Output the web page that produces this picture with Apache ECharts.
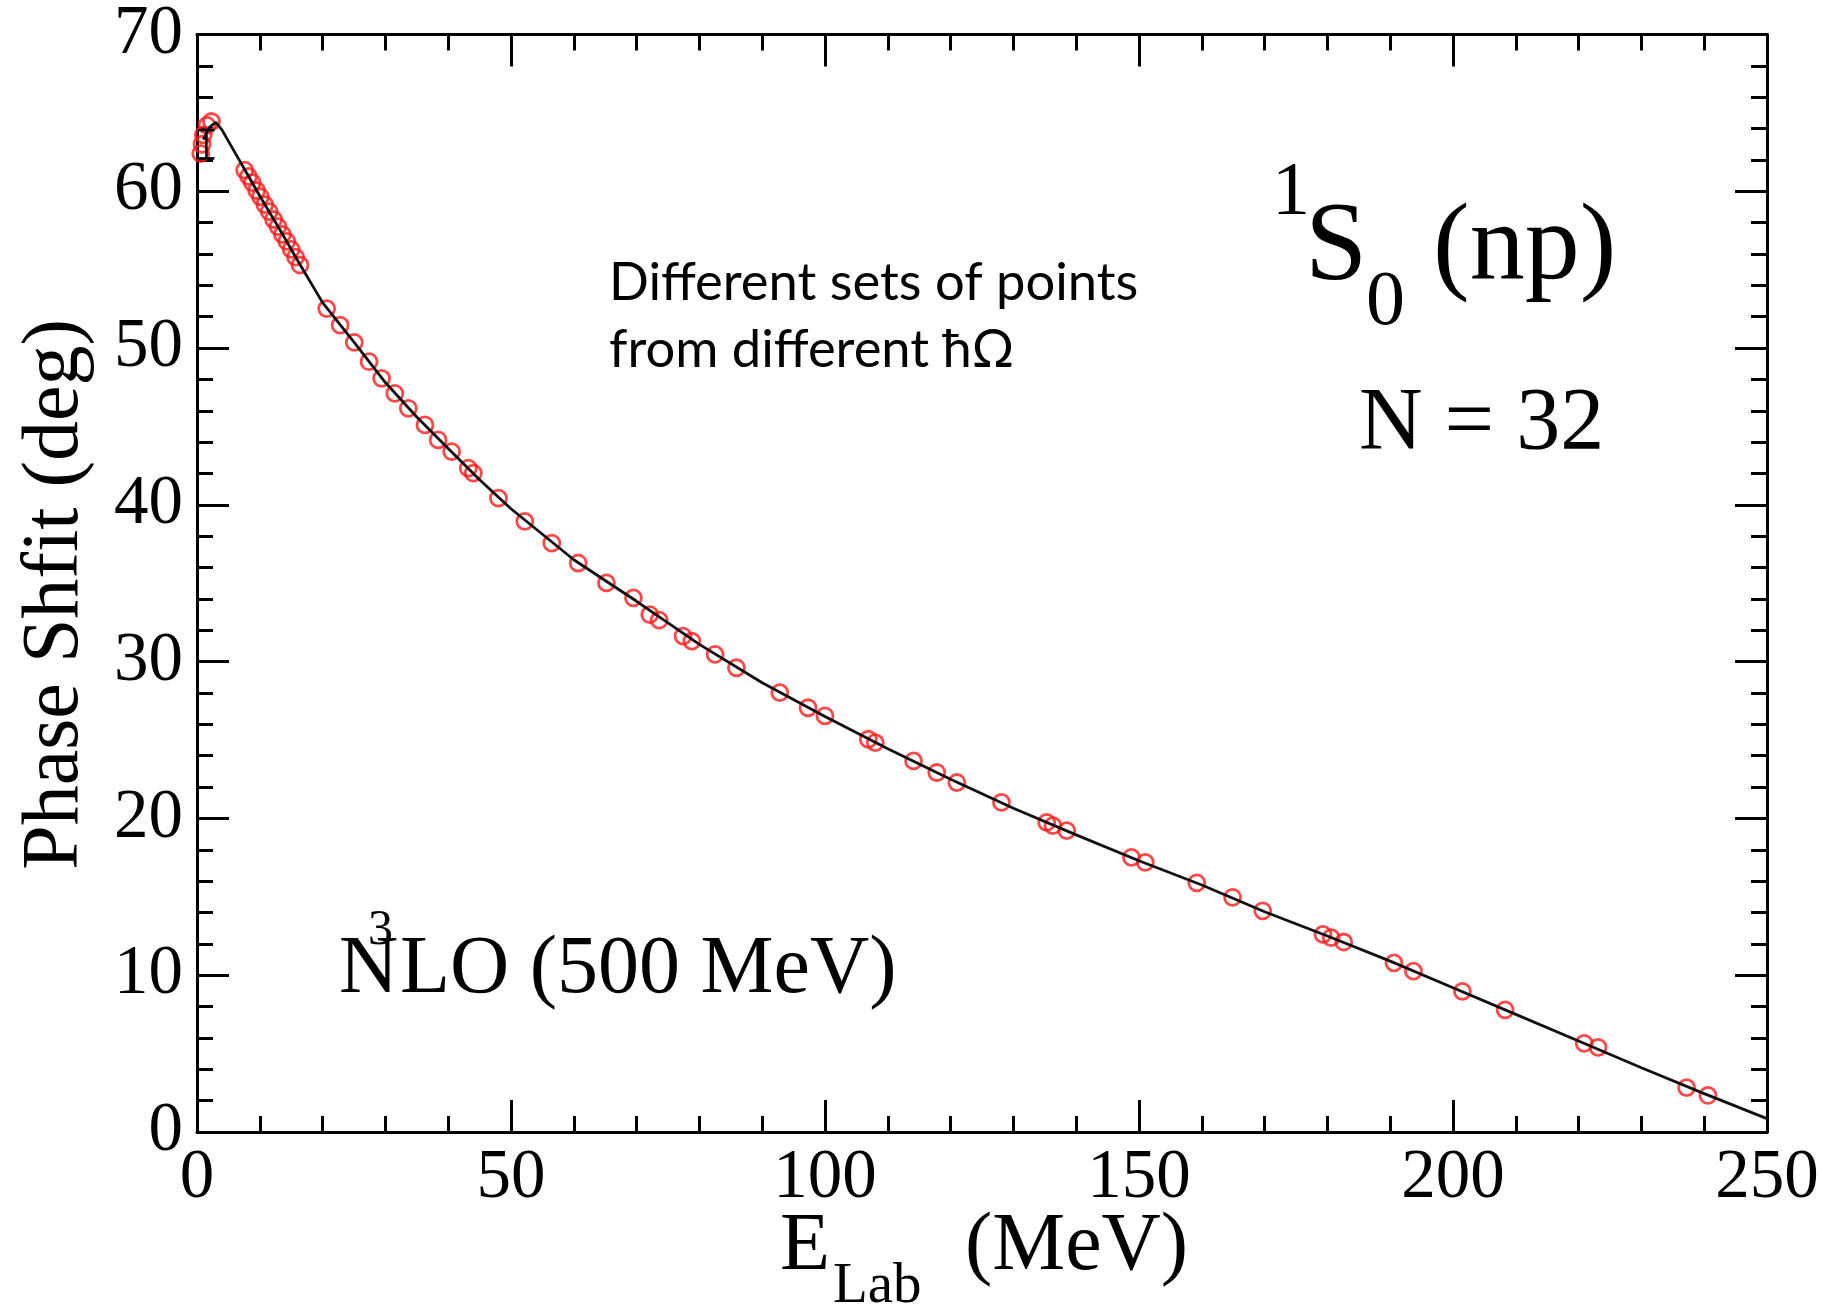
<!DOCTYPE html>
<html>
<head>
<meta charset="utf-8">
<script src="https://cdn.jsdelivr.net/npm/echarts@6/dist/echarts.min.js"></script>
<style>
  html, body { margin: 0; padding: 0; background: #fff; }
  #chart { width: 1845px; height: 1309px; }
</style>
</head>
<body>
<div id="chart"></div>
<script>
// red circles: phase shifts from the different hbar-omega sets
const pointEnergy = [
  0.6, 0.8, 1.0, 1.6, 2.3,
  7.6, 8.2, 8.8, 9.5, 10.1, 10.8, 11.5, 12.2, 12.9, 13.6, 14.3, 15.0, 15.7, 16.4,
  20.65, 22.8, 25.05, 27.4, 29.4, 31.5, 33.65, 36.3, 38.4, 40.55, 43.2, 44.0, 48.0, 52.2, 56.5, 60.7, 65.2, 69.5, 72.1, 73.6,
  77.4, 78.8, 82.5, 85.9, 92.8, 97.3, 100.0, 106.9, 108.0, 114.1, 117.8, 121.0, 128.1, 135.3, 136.3, 138.5, 148.8, 151.0,
  159.2, 164.9, 169.7, 179.3, 180.6, 182.6, 190.6, 193.7, 201.5, 208.3, 220.9, 223.1, 237.2, 240.6,
];
const pointPhase = [
  62.4, 63.0, 63.6, 64.2, 64.45,
  61.35, 60.95, 60.55, 60.05, 59.65, 59.15, 58.7, 58.2, 57.75, 57.25, 56.8, 56.3, 55.8, 55.3,
  52.52, 51.46, 50.36, 49.13, 48.07, 47.11, 46.16, 45.1, 44.14, 43.4, 42.34, 42.02, 40.43, 38.95, 37.56, 36.29, 35.02, 34.07, 33.0, 32.65,
  31.63, 31.31, 30.46, 29.61, 28.02, 27.06, 26.54, 25.05, 24.84, 23.67, 22.93, 22.29, 21.02, 19.75, 19.54, 19.22, 17.52, 17.2,
  15.89, 14.97, 14.11, 12.61, 12.4, 12.12, 10.79, 10.26, 8.97, 7.79, 5.65, 5.4, 2.83, 2.33,
];

// black curve: N3LO result
const curveEnergy = [1, 2, 3, 4, 6, 8, 10, 12, 14, 16, 20, 25, 30, 35, 40, 45, 50, 60, 70, 80, 90,
  100, 110, 120, 130, 140, 150, 160, 170, 180, 190, 200, 210, 220, 230, 240, 250];
const curvePhase = [63.3, 64.1, 64.4, 63.9, 62.5, 61.1, 59.7, 58.35, 57.0, 55.6, 52.9, 50.38, 47.8, 45.6, 43.6, 41.6, 39.75, 36.5, 33.85, 31.1, 28.65,
  26.5, 24.45, 22.5, 20.65, 18.95, 17.3, 15.75, 14.05, 12.5, 10.9, 9.2, 7.5, 5.8, 4.1, 2.45, 0.85];

// small error bar near threshold
const errorEnergy = [1.5];
const errorLow = [62.1];
const errorHigh = [63.9];

const X_MIN = 0, X_MAX = 250, X_STEP = 50;
const Y_MIN = 0, Y_MAX = 70, Y_STEP = 10;

const SERIF = "'Liberation Serif', 'Times New Roman', serif";
const SANS = "Lato, 'Open Sans', sans-serif";

const chart = echarts.init(document.getElementById("chart"), null, { renderer: "canvas" });

const frameLine = { color: "#000", width: 3 };

function makeAxis(kind, position, showLabels) {
  return {
    type: "value",
    position,
    min: kind === "x" ? X_MIN : Y_MIN,
    max: kind === "x" ? X_MAX : Y_MAX,
    interval: kind === "x" ? X_STEP : Y_STEP,
    axisLine: { show: true, onZero: false, lineStyle: frameLine },
    axisTick: { show: true, inside: true, length: 32, lineStyle: frameLine },
    minorTick: { show: true, splitNumber: 5, length: 16, lineStyle: frameLine },
    splitLine: { show: false },
    minorSplitLine: { show: false },
    axisLabel: {
      show: showLabels,
      margin: kind === "x" ? 12 : 14,
      fontSize: 69,
      fontFamily: SERIF,
      color: "#000",
      showMinLabel: true,
      showMaxLabel: true,
    },
  };
}

const xAxes = [makeAxis("x", "bottom", true), makeAxis("x", "top", false)];
const yAxes = [makeAxis("y", "left", true), makeAxis("y", "right", false)];
yAxes[0].name = "Phase Shfit (deg)";
yAxes[0].nameLocation = "middle";
yAxes[0].nameRotate = 90;
yAxes[0].nameGap = 101;
yAxes[0].nameTextStyle = { fontSize: 80, fontFamily: SERIF, color: "#000", padding: [0, 22, 0, 0] };

function serifText(text, x, baseline, size) {
  return {
    type: "text",
    x: x,
    y: baseline - 0.3375 * size,
    style: {
      text,
      fill: "#000",
      font: `${size}px ${SERIF}`,
      align: "left",
      verticalAlign: "middle",
      textAlign: "left",
      textVerticalAlign: "middle",
    },
  };
}

chart.setOption({
  animation: false,
  backgroundColor: "#fff",
  grid: { left: 197, top: 32, width: 1570, height: 1100, containLabel: false },
  xAxis: xAxes,
  yAxis: yAxes,
  series: [
    {
      type: "scatter",
      data: pointEnergy.map((e, i) => [e, pointPhase[i]]),
      symbol: "circle",
      symbolSize: 16,
      itemStyle: { color: "rgba(0,0,0,0)", borderColor: "#ff1a1a", borderWidth: 2.8 },
      z: 2,
    },
    {
      type: "custom",
      data: errorEnergy.map((e, i) => [e, errorLow[i], errorHigh[i]]),
      renderItem: (params, api) => {
        const lo = api.coord([api.value(0), api.value(1)]);
        const hi = api.coord([api.value(0), api.value(2)]);
        const style = { stroke: "#000", lineWidth: 2.5 };
        return {
          type: "group",
          children: [
            { type: "line", shape: { x1: lo[0], y1: lo[1], x2: hi[0], y2: hi[1] }, style },
            { type: "line", shape: { x1: lo[0] - 8, y1: lo[1], x2: lo[0] + 8, y2: lo[1] }, style },
            { type: "line", shape: { x1: hi[0] - 8, y1: hi[1], x2: hi[0] + 8, y2: hi[1] }, style },
          ],
        };
      },
      z: 3,
    },
    {
      type: "line",
      data: curveEnergy.map((e, i) => [e, curvePhase[i]]),
      showSymbol: false,
      symbol: "none",
      lineStyle: { color: "#111", width: 2.8 },
      z: 4,
    },
  ],
  graphic: [
    // x-axis title with subscript
    serifText("E", 780, 1275, 82),
    serifText("Lab", 833, 1306, 57),
    serifText("(MeV)", 965, 1275, 82),
    // channel label
    serifText("1", 1272, 220, 76),
    serifText("S", 1305, 287, 112),
    serifText("0", 1366, 330, 78),
    serifText("(np)", 1433, 287, 110),
    serifText("N = 32", 1359, 455, 88),
    // interaction label
    serifText("N", 339, 998, 82),
    serifText("3", 368, 948, 50),
    serifText("LO (500 MeV)", 400, 998, 82),
    {
      type: "text",
      x: 609,
      y: 250,
      style: {
        text: "Different sets of points\nfrom different ħΩ",
        fill: "#000",
        font: `52.5px ${SANS}`,
        lineHeight: 67,
        align: "left",
        verticalAlign: "top",
        textAlign: "left",
        textVerticalAlign: "top",
      },
    },
  ],
});
</script>
</body>
</html>
